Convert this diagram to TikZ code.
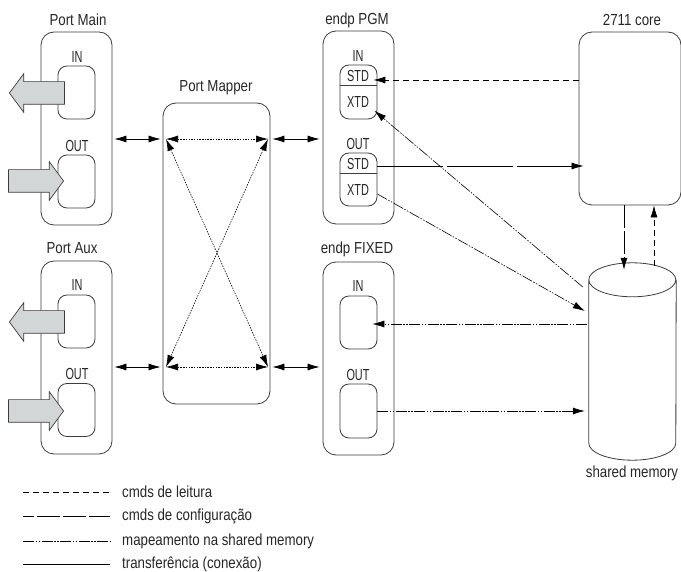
\documentclass[tikz,border=0pt]{standalone}
\usepackage{fontspec}
\usetikzlibrary{arrows.meta,shapes.arrows}
\setmainfont[FakeStretch=0.83]{Liberation Sans}
\newfontfamily\tagfont[FakeStretch=0.68]{Liberation Sans}
\definecolor{arrow-gray}{HTML}{D3D6D6}
\definecolor{line-gray}{HTML}{3C3C3C}
\newcommand{\arrowshaft}{\rule{0pt}{22pt}}
\tikzset{
    label-text/.style = {inner sep=0pt, font=\fontsize{16}{19}\selectfont, text=black!85},
    tag-text/.style = {inner sep=0pt, font=\fontsize{16}{19}\selectfont\tagfont, text=black!85},
    outer-box/.style = {draw=line-gray, line width=0.8pt, rectangle, rounded corners=13pt, inner sep=0pt},
    inner-box/.style = {draw=line-gray, line width=0.8pt, rectangle, rounded corners=9pt, inner sep=0pt, minimum width=37pt, minimum height=53pt},
    gray-arrow/.style = {draw=line-gray, fill=arrow-gray, line width=0.7pt, single arrow, inner sep=0pt, anchor=tip, minimum width=38pt, minimum height=55pt, single arrow head extend=8pt, single arrow tip angle=107},
    link/.style = {draw=black, line width=0.7pt},
    tip/.style = {-{Latex[length=12pt,width=7pt]}},
    both-tips/.style = {{Latex[length=12pt,width=7pt]}-{Latex[length=12pt,width=7pt]}},
    read-line/.style = {link, dash pattern=on 6pt off 4pt},
    config-line/.style = {link, dash pattern=on 23pt off 3pt},
    map-line/.style = {link, line width=0.6pt, dash pattern=on 11pt off 1.5pt on 1.5pt off 1.5pt on 1.5pt off 1.5pt},
    dot-line/.style = {link, line width=0.6pt, dash pattern=on 1.5pt off 1.2pt},
}
\begin{document}
\begin{tikzpicture}[x=1pt, y=-1pt]
\useasboundingbox (0,0) rectangle (681,572);

% ports on the left
\node [outer-box, minimum width=71pt, minimum height=193pt] (port-main) at (76.5,128.5) {};
\node [outer-box, minimum width=71pt, minimum height=193pt] (port-aux) at (76.5,357.5) {};
\node [label-text] (port-main-title) at (78,20) {Port Main};
\node [label-text] (port-aux-title) at (72,248) {Port Aux};
\node [inner-box] (main-in) at (76.5,92.5) {};
\node [inner-box] (main-out) at (76.5,181.5) {};
\node [inner-box] (aux-in) at (76.5,321.5) {};
\node [inner-box] (aux-out) at (76.5,410) {};
\node [tag-text] (main-in-title) at (77,57) {IN};
\node [tag-text] (main-out-title) at (77,146) {OUT};
\node [tag-text] (aux-in-title) at (77,285) {IN};
\node [tag-text] (aux-out-title) at (77,374) {OUT};

% big gray arrows
\node [gray-arrow, shape border rotate=180] (main-in-arrow) at (9,93) {\arrowshaft};
\node [gray-arrow] (main-out-arrow) at (64,181) {\arrowshaft};
\node [gray-arrow, shape border rotate=180] (aux-in-arrow) at (9,322) {\arrowshaft};
\node [gray-arrow] (aux-out-arrow) at (64,411) {\arrowshaft};

% port mapper
\node [outer-box, minimum width=107pt, minimum height=301pt] (mapper) at (216.5,253.5) {};
\node [label-text] (mapper-title) at (216,88) {Port Mapper};
\coordinate (map-nw) at (166,139);
\coordinate (map-ne) at (268,139);
\coordinate (map-sw) at (166,367);
\coordinate (map-se) at (268,367);
\draw [dot-line, both-tips] (map-nw) -- (map-ne);
\draw [dot-line, both-tips] (map-sw) -- (map-se);
\draw [dot-line, both-tips] (map-nw) -- (map-se);
\draw [dot-line, both-tips] (map-ne) -- (map-sw);

% endpoints
\node [outer-box, minimum width=71pt, minimum height=193pt] (endp-pgm) at (358.5,127.5) {};
\node [outer-box, minimum width=71pt, minimum height=193pt] (endp-fixed) at (358.5,358.5) {};
\node [label-text] (endp-pgm-title) at (357,20) {endp PGM};
\node [label-text] (endp-fixed-title) at (357,249) {endp FIXED};
\node [inner-box, minimum height=54pt] (pgm-in) at (358.5,92) {};
\node [inner-box] (pgm-out) at (358.5,179.5) {};
\node [inner-box] (fixed-in) at (358.5,322.5) {};
\node [inner-box, minimum height=54pt] (fixed-out) at (358.5,411) {};
\node [tag-text] (pgm-in-title) at (358,56) {IN};
\node [tag-text] (pgm-out-title) at (358,144) {OUT};
\node [tag-text] (fixed-in-title) at (358,286) {IN};
\node [tag-text] (fixed-out-title) at (358,375) {OUT};
\node [tag-text] (pgm-in-std) at (358,76) {STD};
\node [tag-text] (pgm-in-xtd) at (358,102) {XTD};
\node [tag-text] (pgm-out-std) at (358,164) {STD};
\node [tag-text] (pgm-out-xtd) at (358,190) {XTD};
\draw [draw=line-gray, line width=0.8pt] (pgm-in.west |- 0,85) -- (pgm-in.east |- 0,85);
\draw [draw=line-gray, line width=0.8pt] (pgm-out.west |- 0,173) -- (pgm-out.east |- 0,173);

% core and memory
\node [draw=line-gray, line width=0.8pt, rounded corners=13pt, minimum width=102pt, minimum height=173pt, inner sep=0pt] (core) at (630,118.5) {};
\node [label-text] (core-title) at (632,20) {2711 core};
\node [minimum width=87pt, minimum height=197pt, inner sep=0pt] (memory) at (632.5,361.5) {};
\draw [draw=line-gray, line width=0.8pt] ([yshift=-17pt]memory.north west) arc [start angle=180, end angle=540, x radius=43.5pt, y radius=17pt]
    -- ([yshift=17pt]memory.south west) arc [start angle=180, end angle=360, x radius=43.5pt, y radius=17pt]
    -- ([yshift=-17pt]memory.north east);
\node [label-text] (memory-title) at (632,473) {shared memory};

% links mapper
\draw [link, both-tips] ([xshift=2pt]port-main.east |- map-nw) -- ([xshift=-2pt]mapper.west |- map-nw);
\draw [link, both-tips] ([xshift=2pt]port-aux.east |- map-sw) -- ([xshift=-2pt]mapper.west |- map-sw);
\draw [link, both-tips] ([xshift=2pt]mapper.east |- map-ne) -- ([xshift=-3pt]endp-pgm.west |- map-ne);
\draw [link, both-tips] ([xshift=2pt]mapper.east |- map-se) -- ([xshift=-3pt]endp-fixed.west |- map-se);

% links core and memory
\draw [read-line, tip] ([yshift=-4pt]core.west |- pgm-in-std) -- ([xshift=-4pt,yshift=-4pt]pgm-in.east |- pgm-in-std);
\draw [config-line, tip, dash pattern=on 66pt off 4pt] ([yshift=-2pt]pgm-out.east |- pgm-out-std) -- ([xshift=5pt,yshift=-2pt]core.west |- pgm-out-std);
\draw [config-line, tip] ([xshift=-6pt]core.south) -- ([xshift=-8.5pt,yshift=-7pt]memory.north);
\draw [read-line, tip] ([xshift=21.5pt,yshift=-3pt]memory.north) -- ([xshift=24pt]core.south);
\draw [map-line, tip] ([xshift=-6pt,yshift=24pt]memory.west |- 0,311) -- ([xshift=-3pt,yshift=-3pt]pgm-in.east |- pgm-in-xtd.south);
\draw [map-line, tip] ([yshift=-4pt]pgm-out.east |- pgm-out-xtd) -- ([xshift=-4pt]memory.west |- 0,311);
\draw [map-line, tip] ([xshift=-2pt]memory.west |- 0,324) -- ([xshift=-5pt]fixed-in.east |- 0,324);
\draw [map-line, tip] (fixed-out.east) -- ([xshift=-4pt]memory.west |- fixed-out.east);

% legend
\node [label-text, anchor=west] (legend-read) at (122,492) {cmds de leitura};
\node [label-text, anchor=west] (legend-config) at (122,516) {cmds de configuração};
\node [label-text, anchor=west] (legend-map) at (122,541) {mapeamento na shared memory};
\node [label-text, anchor=west] (legend-transfer) at (122,564) {transferência (conexão)};
\coordinate (legend-start) at (23,492);
\draw [read-line] (legend-start |- legend-read) -- ([xshift=-12pt]legend-read.west);
\draw [config-line, dash phase=12pt] (legend-start |- legend-config) -- ([xshift=-12pt]legend-config.west);
\draw [map-line] (legend-start |- legend-map) -- ([xshift=-12pt]legend-map.west);
\draw [link] (legend-start |- legend-transfer) -- ([xshift=-12pt]legend-transfer.west);
\end{tikzpicture}
\end{document}
